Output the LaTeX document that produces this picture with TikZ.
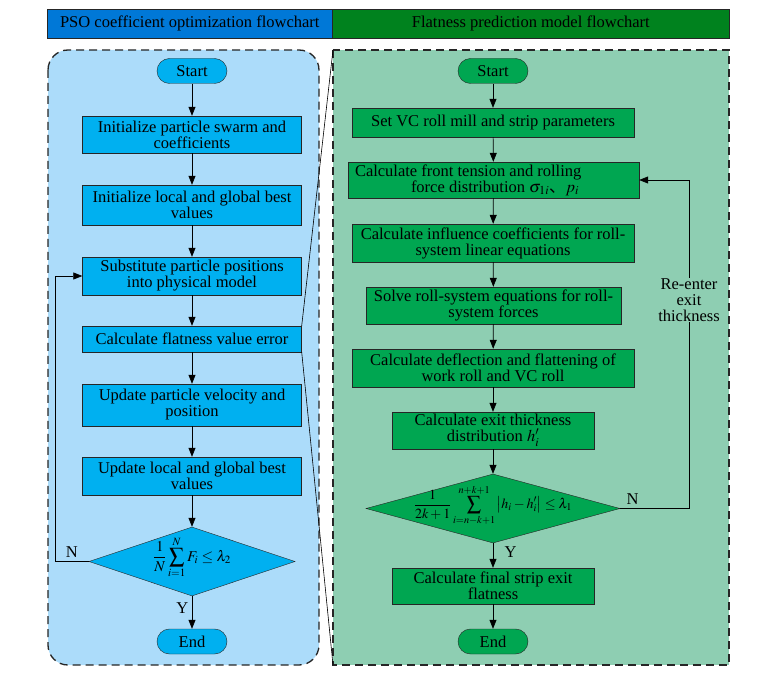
\documentclass[tikz,border=0pt]{standalone}
\usepackage{mathptmx}
\usepackage{fontspec}
\setmainfont{Liberation Serif}
\newfontfamily\cjk{Noto Sans CJK SC}
\usepackage{xcolor}
\usetikzlibrary{shapes.geometric, arrows.meta, positioning}

\definecolor{psoblue}{RGB}{0,120,215}
\definecolor{flatgreen}{RGB}{0,130,30}
\definecolor{psopanel}{RGB}{172,220,250}
\definecolor{psobox}{RGB}{0,176,240}
\definecolor{flatpanel}{RGB}{142,206,178}
\definecolor{flatbox}{RGB}{0,166,81}

\newcommand{\formula}[2][15]{\smash{\makebox[0pt]{\fontsize{#1}{#1}\selectfont$\displaystyle #2$}}}

\begin{document}
\begin{tikzpicture}[x=1pt, y=-1pt,
    font=\fontsize{16.5}{16}\selectfont,
    titlebar/.style={rectangle, draw=black!85, line width=0.6pt, minimum height=29pt, anchor=north west},
    pbox/.style={rectangle, draw=black!85, fill=psobox, align=center, inner sep=2pt, minimum width=219pt},
    fbox/.style={rectangle, draw=black!85, fill=flatbox, align=center, inner sep=2pt},
    term/.style={rectangle, rounded corners=12.5pt, draw=black!85, minimum width=70pt, minimum height=25pt, inner sep=0pt},
    decision/.style={diamond, draw=black!85, inner sep=0pt},
    panel/.style={draw=black!85, line width=1.3pt, dash pattern=on 8pt off 5pt},
    arrow/.style={-{Triangle[length=9pt, width=7pt]}, line width=0.7pt}
]
\useasboundingbox (0,0) rectangle (772,676);

% title bar
\node[titlebar, fill=psoblue, minimum width=285pt] (ptitle) at (47,9) {PSO coefficient optimization flowchart};
\node[titlebar, fill=flatgreen, minimum width=397pt] (ftitle) at (332,9) {Flatness prediction model flowchart};

% panels
\draw[panel, fill=psopanel, rounded corners=20pt] (48,50) rectangle (319,665);
\draw[panel, fill=flatpanel] (333,50) rectangle (729,665);
\coordinate (ftop) at (333,50);
\coordinate (fbot) at (333,665);

% PSO flowchart
\node[term, fill=psobox] (pstart) at (192,71) {Start};
\node[pbox, minimum height=37pt] (pinit) at (192,134.5) {Initialize particle swarm and\\coefficients};
\node[pbox, minimum height=40pt] (pbest) at (192,205) {Initialize local and global best\\values};
\node[pbox, minimum height=38pt] (psub) at (192,276) {Substitute particle positions\\into physical model};
\node[pbox, minimum height=26pt] (perr) at (192,339) {Calculate flatness value error};
\node[pbox, minimum height=42pt] (pvel) at (192,405) {Update particle velocity and\\position};
\node[pbox, minimum height=38pt] (pupd) at (192,476) {Update local and global best\\values};
\node[decision, fill=psobox, minimum width=206pt, minimum height=69pt] (pcheck) at (192,561.5)
    {\formula{\frac{1}{N}\sum_{i=1}^{N}F_i\le\lambda_2}};
\node[term, fill=psobox] (pend) at (192,641.5) {End};

% flatness flowchart
\node[term, fill=flatbox] (fstart) at (493,71) {Start};
\node[fbox, minimum width=282pt, minimum height=29pt] (fset) at (493,122.5) {Set VC roll mill and strip parameters};
\node[fbox, minimum height=36pt] (ften) at (493.5,180)
    {\parbox{287pt}{\hspace*{5pt}Calculate front tension and rolling\\
     \hspace*{61pt}force distribution $\sigma_{1i}${\cjk 、}$p_i$}};
\node[fbox, minimum width=282pt, minimum height=38pt] (finf) at (493,243) {Calculate influence coefficients for roll-\\system linear equations};
\node[fbox, minimum width=255pt, minimum height=37pt] (fsol) at (493.5,305.5) {Solve roll-system equations for roll-\\system forces};
\node[fbox, minimum width=282pt, minimum height=38pt] (fdef) at (493,368) {Calculate deflection and flattening of\\work roll and VC roll};
\node[fbox, minimum width=202pt, minimum height=37pt] (fexit) at (493,430.5) {Calculate exit thickness\\distribution $h_i'$};
\node[decision, fill=flatbox, minimum width=254pt, minimum height=69pt] (fcheck) at (493,508.5)
    {\formula[14]{\frac{1}{2k+1}\sum_{i=n-k+1}^{n+k+1}\left|h_i-h_i'\right|\le\lambda_1}};
\node[fbox, minimum width=202pt, minimum height=36pt] (ffin) at (493,586) {Calculate final strip exit\\flatness};
\node[term, fill=flatbox] (fend) at (493,641.5) {End};

% zoom lines
\draw[line width=0.6pt] (perr.north east) -- (ftop);
\draw[line width=0.6pt] (perr.south east) -- (fbot);

% arrows
\foreach \a/\b in {pstart/pinit, pinit/pbest, pbest/psub, psub/perr, perr/pvel, pvel/pupd, pupd/pcheck,
                   fstart/fset, fset/ften, ften/finf, finf/fsol, fsol/fdef, fdef/fexit, fexit/fcheck, ffin/fend}
    \draw[arrow] (\a) -- (\b);
\draw[arrow] (pcheck) -- node[left, pos=0.35] {Y} (pend);
\draw[arrow] (fcheck) -- node[right, pos=0.35, xshift=8pt] {Y} (ffin);

% loops
\coordinate (ploop) at (55,561.5);
\coordinate (floop) at (689,508.5);
\draw[arrow] (pcheck.west) -- node[above, pos=0.5] {N} (ploop) |- (psub.west);
\draw[arrow] (fcheck.east) -- node[above, pos=0.18] {N} (floop) |- (ften.east);
\node[fill=flatpanel, inner sep=1pt, align=center] (reenter) at (689,300) {Re-enter\\exit\\thickness};

\end{tikzpicture}
\end{document}
